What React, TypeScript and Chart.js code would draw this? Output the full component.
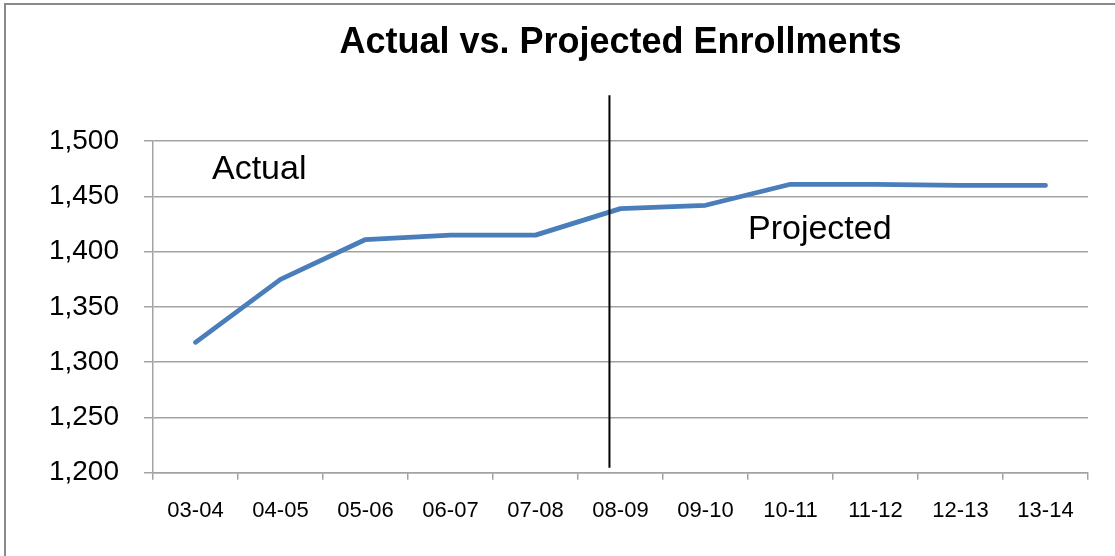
import React, { useEffect, useRef } from "react";
import { Chart, registerables } from "chart.js";

Chart.register(...registerables);

const categories = ["03-04", "04-05", "05-06", "06-07", "07-08", "08-09", "09-10", "10-11", "11-12", "12-13", "13-14"];
const enrollments = [1318, 1375, 1411, 1415, 1415, 1439, 1442, 1461, 1461, 1460, 1460];
const dividerCategory = "08-09";
const dividerShift = -0.13;
const yMin = 1200;
const yMax = 1500;
const yStep = 50;
const titleText = "Actual vs. Projected Enrollments";
const leftLabel = "Actual";
const rightLabel = "Projected";

const FONT = "'Liberation Sans', Arial, sans-serif";
const GRID = "#a3a3a3";

const overlayPlugin = {
  id: "overlay",
  afterDatasetsDraw(chart: any) {
    const { ctx, chartArea, scales } = chart;
    const xs = scales.x;
    const idx = categories.indexOf(dividerCategory);
    const x = xs.getPixelForValue(idx + dividerShift);
    ctx.save();
    ctx.strokeStyle = "#000000";
    ctx.lineWidth = 2;
    ctx.beginPath();
    ctx.moveTo(x, chartArea.top - 46);
    ctx.lineTo(x, chartArea.bottom - 5);
    ctx.stroke();

    ctx.fillStyle = "#000000";
    ctx.font = `34px ${FONT}`;
    ctx.textAlign = "left";
    ctx.textBaseline = "alphabetic";
    ctx.fillText(leftLabel, chartArea.left + 59, chartArea.top + 38);
    ctx.fillText(rightLabel, chartArea.left + 595, chartArea.top + 98);
    ctx.restore();
  },
};

export default function App() {
  const ref = useRef<HTMLCanvasElement | null>(null);

  useEffect(() => {
    document.body.style.margin = "0";
    const canvas = ref.current;
    if (!canvas) return;
    const chart = new Chart(canvas, {
      type: "line",
      data: {
        labels: categories,
        datasets: [
          {
            data: enrollments,
            borderColor: "#4a7ebb",
            backgroundColor: "#4a7ebb",
            borderWidth: 4.8,
            pointRadius: 0,
            tension: 0,
            borderJoinStyle: "round",
            borderCapStyle: "round",
          },
        ],
      },
      options: {
        responsive: false,
        animation: false,
        devicePixelRatio: 1,
        layout: { padding: { left: 0, right: 27, top: 0, bottom: 0 } },
        plugins: {
          legend: { display: false },
          tooltip: { enabled: false },
          title: {
            display: true,
            fullSize: false,
            text: titleText,
            color: "#000000",
            font: { family: FONT, size: 36, weight: "bold", lineHeight: 1.2 },
            padding: { top: 21, bottom: 77 },
          },
        },
        scales: {
          x: {
            type: "category",
            offset: true,
            grid: {
              display: true,
              drawOnChartArea: false,
              drawTicks: true,
              tickLength: 7,
              offset: true,
              color: GRID,
              lineWidth: 1.5,
            },
            border: { display: true, color: GRID, width: 1.5 },
            ticks: {
              color: "#000000",
              font: { family: FONT, size: 22 },
              padding: 18,
              maxRotation: 0,
              autoSkip: false,
            },
            afterFit(scale: any) {
              scale.height = 83.3;
            },
          },
          y: {
            min: yMin,
            max: yMax,
            ticks: {
              stepSize: yStep,
              color: "#000000",
              font: { family: FONT, size: 28 },
              padding: 25,
              callback: (v: any) => Number(v).toLocaleString("en-US"),
            },
            grid: { color: GRID, lineWidth: 1.5, tickLength: 9 },
            border: { display: true, color: GRID, width: 1.5 },
            afterFit(scale: any) {
              scale.width = 153;
            },
          },
        },
      },
      plugins: [overlayPlugin],
    } as any);
    return () => chart.destroy();
  }, []);

  return (
    <div style={{ position: "relative", width: 1115, height: 556, overflow: "hidden", background: "#ffffff" }}>
      <div
        style={{
          position: "absolute",
          left: 4,
          top: 3,
          width: 1200,
          height: 600,
          borderTop: "2px solid #8a8a8a",
          borderLeft: "2px solid #8a8a8a",
          boxSizing: "border-box",
        }}
      />
      <canvas ref={ref} width={1115} height={556} style={{ position: "absolute", left: 0, top: 0, display: "block" }} />
    </div>
  );
}
